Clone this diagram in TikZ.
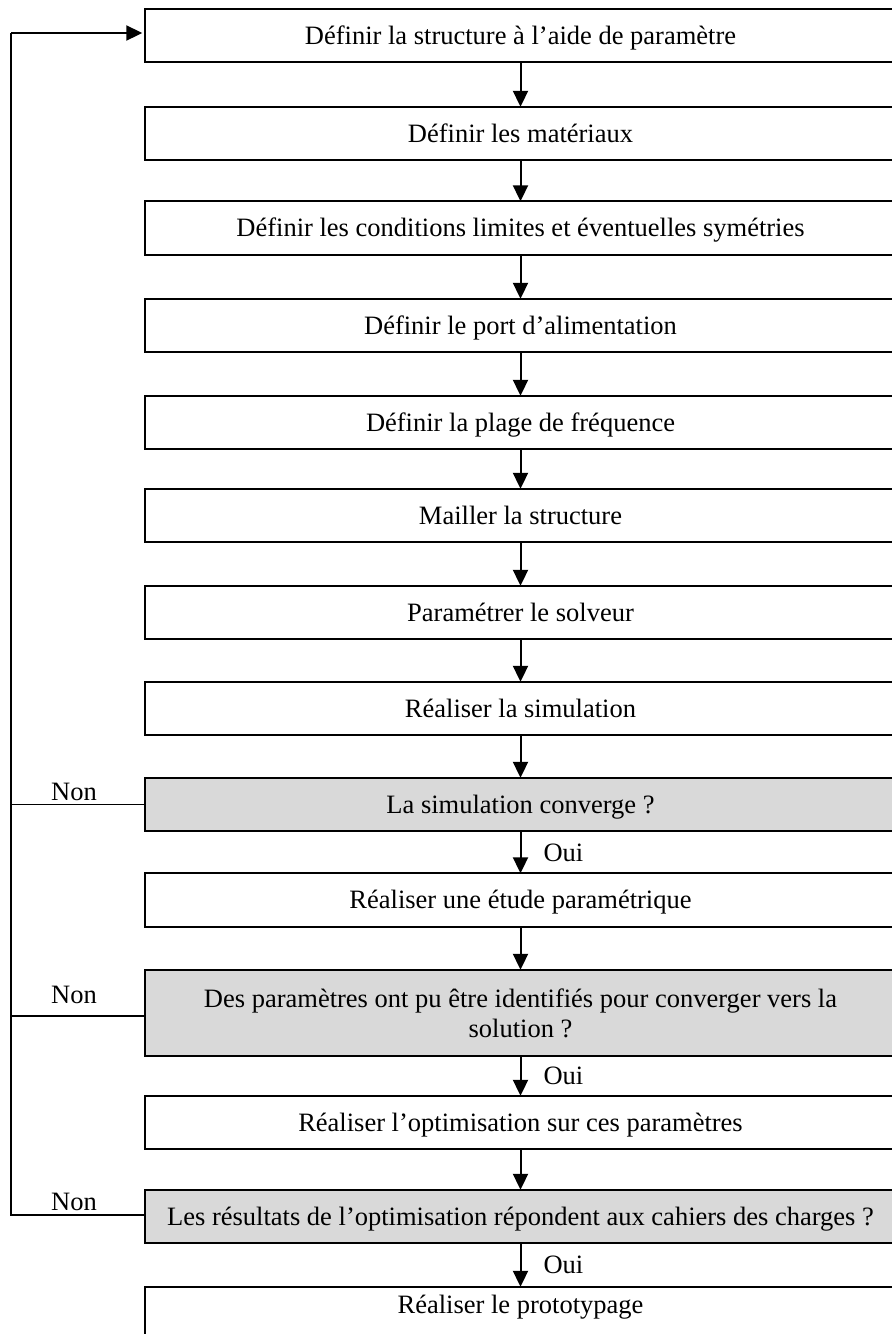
\documentclass[tikz,border=0pt]{standalone}
\usepackage{fontspec}
\setmainfont{Liberation Serif}
\usetikzlibrary{arrows.meta,calc,backgrounds}
\definecolor{boxgrey}{RGB}{217,217,217}
\begin{document}
\begin{tikzpicture}[x=1pt,y=-1pt,
  box/.style={minimum width=750pt, minimum height=53pt,
    inner sep=0pt, font=\fontsize{26.5}{30}\selectfont},
  frame/.style={draw=black, line width=2pt},
  one/.style={text height=17.5pt, text depth=0pt},
  flow/.style={line width=2pt, -{Triangle[length=16pt,width=15pt]}},
  back/.style={line width=1.6pt},
  lab/.style={font=\fontsize{26.5}{30}\selectfont, inner sep=0pt},
]
\useasboundingbox (0,0) rectangle (892,1334);

\node[box,one] (b1) at (520.5,35.5) {Définir la structure à l’aide de paramètre};
\node[box,one] (b2) at (520.5,133.5) {Définir les matériaux};
\node[box,one] (b3) at (520.5,228) {Définir les conditions limites et éventuelles symétries};
\node[box,one] (b4) at (520.5,325.5) {Définir le port d’alimentation};
\node[box,one] (b5) at (520.5,422.5) {Définir la plage de fréquence};
\node[box,one] (b6) at (520.5,515.5) {Mailler la structure};
\node[box,one] (b7) at (520.5,612.5) {Paramétrer le solveur};
\node[box,one] (b8) at (520.5,708.5) {Réaliser la simulation};
\node[box,one] (b9) at (520.5,804.5) {La simulation converge ?};
\node[box,one] (b10) at (520.5,900) {Réaliser une étude paramétrique};
\node[box,minimum height=86pt,align=center] (b11) at (520.5,1013)
  {Des paramètres ont pu être identifiés pour converger vers la\\solution ?};
\node[box,one] (b12) at (520.5,1122.5) {Réaliser l’optimisation sur ces paramètres};
\node[box,one] (b13) at (520.5,1216.5) {Les résultats de l’optimisation répondent aux cahiers des charges ?};
\node[box,text height=17.5pt,text depth=17.5pt] (b14) at (520.5,1313.5) {Réaliser le prototypage};

\begin{scope}[on background layer]
\foreach \n/\f in {b1/white,b2/white,b3/white,b4/white,b5/white,b6/white,b7/white,
                   b8/white,b9/boxgrey,b10/white,b11/boxgrey,b12/white,b13/boxgrey,b14/white}
  \draw[frame,fill=\f] (\n.north west) rectangle ([xshift=12pt]\n.south east);
\end{scope}

\foreach \a/\b in {b1/b2,b2/b3,b3/b4,b4/b5,b5/b6,b6/b7,b7/b8,b8/b9,b10/b11,b12/b13}
  \draw[flow] (\a.south) -- (\b.north);

\draw[flow] (b9.south) -- node[lab,one,anchor=west,xshift=22pt] (oui1) {Oui} (b10.north);
\draw[flow] (b11.south) -- node[lab,one,anchor=west,xshift=22pt] (oui2) {Oui} (b12.north);
\draw[flow] (b13.south) -- node[lab,one,anchor=west,xshift=22pt] (oui3) {Oui} (b14.north);

\coordinate (fl) at (11,0);
\draw[back] (b9.west) -- (b9.west -| fl);
\draw[back] ([yshift=-3pt]b11.west) -- ([yshift=-3pt]b11.west -| fl);
\draw[back] ([yshift=1.5pt]b13.west) -- ([yshift=1.5pt]b13.west -| fl) -- ([yshift=2.5pt]fl |- b1.west);
\draw[line width=2pt, -{Triangle[length=16pt,width=15pt]}, shorten >=3pt]
  ([yshift=2.5pt]fl |- b1.west) -- ([yshift=2.5pt]b1.west);

\node[lab,anchor=base] (non1) at (74,800) {Non};
\node[lab,anchor=base] (non2) at (74,1003) {Non};
\node[lab,anchor=base] (non3) at (74,1210) {Non};
\end{tikzpicture}
\end{document}
